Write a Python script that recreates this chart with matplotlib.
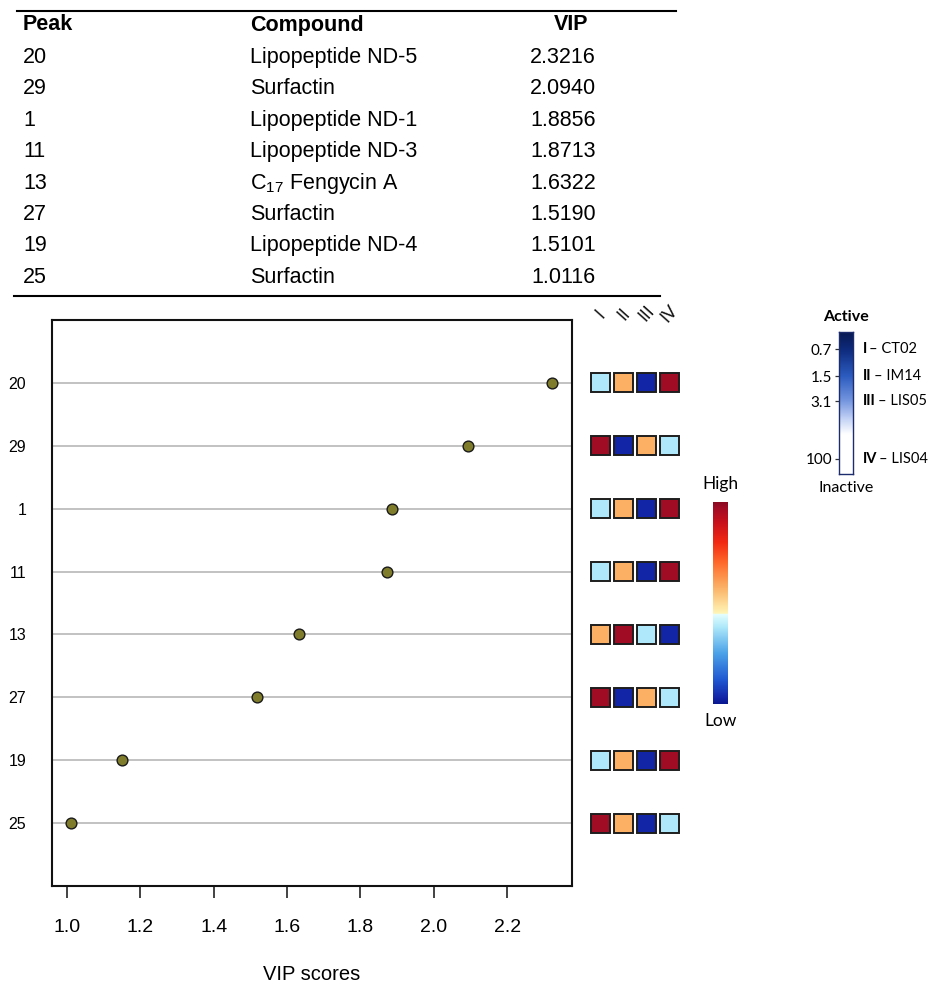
import matplotlib
matplotlib.use('Agg')
import matplotlib.pyplot as plt
import numpy as np
from matplotlib.colors import LinearSegmentedColormap
from matplotlib.patches import Rectangle

# ---------------- data ----------------
peaks = ['20', '29', '1', '11', '13', '27', '19', '25']
compounds = ['Lipopeptide ND-5', 'Surfactin', 'Lipopeptide ND-1', 'Lipopeptide ND-3',
             r'$C_{17}$ Fengycin A', 'Surfactin', 'Lipopeptide ND-4', 'Surfactin']
vip_table = ['2.3216', '2.0940', '1.8856', '1.8713', '1.6322', '1.5190', '1.5101', '1.0116']
vip_plot = [2.3216, 2.0940, 1.8856, 1.8713, 1.6322, 1.5190, 1.15, 1.0116]
x_ticks = [1.0, 1.2, 1.4, 1.6, 1.8, 2.0, 2.2]
strain_numerals = ['I', 'II', 'III', 'IV']
strain_names = ['CT02', 'IM14', 'LIS05', 'LIS04']
active_ticks = ['0.7', '1.5', '3.1', '100']
# relative level per peak and strain (1 = low ... 4 = high)
heat_rank = [
    [2, 3, 1, 4],
    [4, 1, 3, 2],
    [2, 3, 1, 4],
    [2, 3, 1, 4],
    [3, 4, 2, 1],
    [4, 1, 3, 2],
    [2, 3, 1, 4],
    [4, 3, 1, 2],
]

# ---------------- style ----------------
plt.rcParams['font.family'] = ['Liberation Sans', 'DejaVu Sans']
plt.rcParams['mathtext.default'] = 'regular'
LEG_FONT = ['Lato', 'DejaVu Sans']

W, H = 935, 991
fig = plt.figure(figsize=(W / 100, H / 100), dpi=100)


def add_ax(x0, y0, x1, y1):
    return fig.add_axes([x0 / W, 1 - y1 / H, (x1 - x0) / W, (y1 - y0) / H])


hm_cmap = LinearSegmentedColormap.from_list('hm', [
    (0.00, '#0a1890'), (0.03, '#1326a8'), (0.12, '#1f5ad2'), (0.25, '#4aa2e8'),
    (0.38, '#aee8fa'), (0.445, '#e4ffff'), (0.448, '#fff6b8'), (0.52, '#fdd08a'),
    (0.58, '#fbb064'), (0.70, '#ff6a2a'), (0.80, '#f22a12'), (0.90, '#c8101c'),
    (0.97, '#a30c25'), (1.00, '#8a0a22')])
rank_value = {1: 0.03, 2: 0.38, 3: 0.58, 4: 0.97}

# ---------------- table ----------------
axt = fig.add_axes([0, 0, 1, 1])
axt.set_xlim(0, W)
axt.set_ylim(H, 0)
axt.axis('off')
axt.plot([17, 676], [11, 11], color='black', lw=1.5)
axt.plot([14, 660], [296, 296], color='black', lw=1.5)
hdr_y = 25
axt.text(23, hdr_y, 'Peak', fontsize=15.5, fontweight='bold', va='center', ha='left')
axt.text(250, hdr_y, 'Compound', fontsize=15.5, fontweight='bold', va='center', ha='left')
axt.text(571, hdr_y, 'VIP', fontsize=15.5, fontweight='bold', va='center', ha='center')
row_y0, row_dy = 57.5, 31.4
for i, (p, c, v) in enumerate(zip(peaks, compounds, vip_table)):
    y = row_y0 + i * row_dy
    axt.text(23, y, p, fontsize=15.5, va='center', ha='left')
    axt.text(250, y, c, fontsize=15.5, va='center', ha='left')
    axt.text(563, y, v, fontsize=15.5, va='center', ha='center')

# ---------------- main dot plot ----------------
ax = add_ax(52, 320, 572, 886)
ypos = np.arange(1, len(peaks) + 1)
ax.set_xlim(0.959, 2.377)
ax.set_ylim(len(peaks) + 1, 0)
ax.set_yticks(ypos)
ax.set_yticklabels(peaks)
ax.yaxis.grid(True, color='#bdbdbd', lw=1.3)
ax.set_axisbelow(True)
ax.scatter(vip_plot, ypos, s=60, c='#7f7d2c', edgecolors='#1a1a1a', linewidths=1.0, zorder=3)
ax.set_xticks(x_ticks)
ax.set_xticklabels([f'{t:.1f}' for t in x_ticks])
ax.tick_params(axis='x', length=8.6, width=1.2, pad=15, labelsize=14, color='#222222')
ax.tick_params(axis='y', length=0, pad=18.5, labelsize=11.5)
for s in ax.spines.values():
    s.set_linewidth(1.5)
    s.set_color('#111111')
ax.set_xlabel('VIP scores', fontsize=14.5, labelpad=21)

# ---------------- heat squares ----------------
axh = add_ax(589, 320, 681, 886)
axh.set_xlim(-0.5, 3.5)
axh.set_ylim(len(peaks) + 1, 0)
axh.axis('off')
for i, row in enumerate(heat_rank):
    for j, r in enumerate(row):
        axh.add_patch(Rectangle((j - 0.413, ypos[i] - 0.15), 0.826, 0.30,
                                facecolor=hm_cmap(rank_value[r]), edgecolor='#1e1e1e',
                                lw=1.4, zorder=2))
for j, n in enumerate(strain_numerals):
    axh.text(j, -0.1, n, rotation=48, ha='center', va='center', fontsize=12.5,
             family=LEG_FONT, color='#111111', clip_on=False)

# ---------------- High / Low colour bar ----------------
axc = add_ax(713, 502, 728, 704)
grad = np.linspace(0, 1, 256).reshape(-1, 1)
axc.imshow(grad, cmap=hm_cmap, origin='lower', aspect='auto', extent=(0, 1, 0, 1))
axc.axis('off')
axc.text(0.5, 1.089, 'High', transform=axc.transAxes, ha='center', va='center',
         fontsize=12.5, family=LEG_FONT)
axc.text(0.5, -0.084, 'Low', transform=axc.transAxes, ha='center', va='center',
         fontsize=12.5, family=LEG_FONT)

# ---------------- Active / Inactive bar ----------------
act_cmap = LinearSegmentedColormap.from_list('act', [
    (0.0, '#0a1a52'), (0.12, '#0e2a7c'), (0.31, '#2c5cc0'), (0.49, '#7898e0'),
    (0.62, '#c8d6f6'), (0.72, '#ffffff'), (1.0, '#ffffff')])
axa = add_ax(839, 332, 853, 474)
axa.imshow(np.linspace(0, 1, 256).reshape(-1, 1), cmap=act_cmap, origin='upper',
           aspect='auto', extent=(0, 1, 1, 0))
axa.set_xlim(0, 1)
axa.set_ylim(1, 0)
axa.set_xticks([])
tick_pos = [0.12, 0.31, 0.486, 0.894]
axa.set_yticks(tick_pos)
axa.set_yticklabels(active_ticks, family=LEG_FONT)
axa.tick_params(axis='y', length=3, width=0.9, pad=2, labelsize=11, color='#333333')
for s in axa.spines.values():
    s.set_linewidth(1.0)
    s.set_color('#1c2c6c')
axa.text(0.5, 1.106, 'Active', transform=axa.transAxes, ha='center', va='center',
         fontsize=11.5, fontweight='bold', family=LEG_FONT)
axa.text(0.5, -0.099, 'Inactive', transform=axa.transAxes, ha='center', va='center',
         fontsize=11.5, family=LEG_FONT)
for yp, num, name in zip(tick_pos, strain_numerals, strain_names):
    t = axa.text(1.714, yp, num, transform=axa.get_yaxis_transform(), ha='left',
                 va='center', fontsize=10.5, fontweight='bold', family=LEG_FONT)
    axa.annotate('\u2013 ' + name, xy=(1, 0.5), xycoords=t, xytext=(1.5, 0),
                 textcoords='offset points', ha='left', va='center', fontsize=10.5,
                 family=LEG_FONT)

fig.savefig('out.png', dpi=100)
